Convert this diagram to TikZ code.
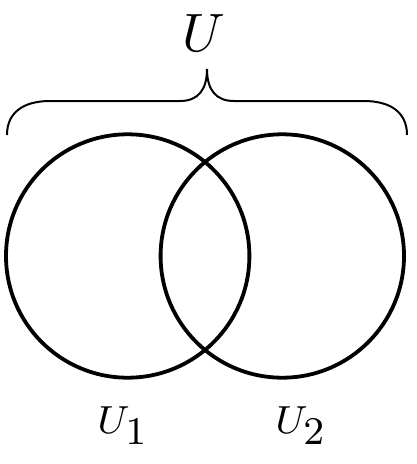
\documentclass[tikz,border=0pt]{standalone}
\begin{document}
\begin{tikzpicture}[x=1pt,y=-1pt,
  setcircle/.style={draw=black,line width=3.8pt},
  bracestyle/.style={draw=black,line width=2pt},
  biglabel/.style={inner sep=0pt,scale=5.4},
  sublabel/.style={inner sep=0pt,font=\footnotesize,scale=4.9}]
\newcommand{\setsub}[1]{_{\lower0.6pt\hbox{$\textstyle #1$}}}
\useasboundingbox (0,0) rectangle (416,464);
\coordinate (c1) at (127.7,256);
\coordinate (c2) at (282.3,256);
\draw[setcircle] (c1) circle[radius=121.7];
\draw[setcircle] (c2) circle[radius=121.7];
\coordinate (bl) at (7,135);
\coordinate (br) at (407,135);
\coordinate (tip) at (207,69);
\draw[bracestyle] (bl) .. controls (7,112) and (24,101) .. (50,101)
  -- (180,101) .. controls (198,101) and (207,90) .. (tip)
  .. controls (207,90) and (216,101) .. (234,101)
  -- (364,101) .. controls (390,101) and (407,112) .. (br);
\node[biglabel,anchor=base] (U) at (204,51) {$U$};
\node[sublabel,anchor=base] (U1) at (123,433) {$U\setsub{1}$};
\node[sublabel,anchor=base] (U2) at (301,433) {$U\setsub{2}$};
\end{tikzpicture}
\end{document}
